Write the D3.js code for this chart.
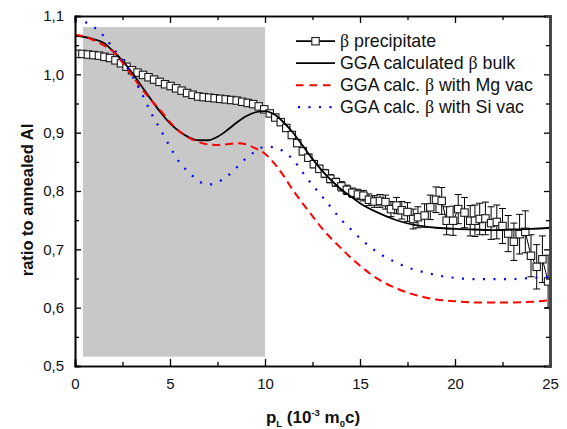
<!DOCTYPE html>
<html><head><meta charset="utf-8">
<script src="https://cdn.jsdelivr.net/npm/d3@7"></script>
<style>
html,body{margin:0;padding:0;background:#fff;}
svg{display:block;}
text{font-family:"Liberation Sans",Arial,sans-serif;}
</style></head>
<body>
<svg id="chart" width="567" height="429"></svg>
<script>
// ---- data ----
const dataX = [0.10,0.39,0.68,0.97,1.26,1.55,1.84,2.13,2.42,2.71,3.00,3.29,3.58,3.87,4.16,4.45,4.74,5.03,5.32,5.61,5.90,6.19,6.48,6.77,7.06,7.35,7.64,7.93,8.22,8.51,8.80,9.09,9.38,9.67,9.96,10.25,10.54,10.83,11.12,11.41,11.70,11.99,12.28,12.57,12.86,13.15,13.44,13.73,14.02,14.31,14.60,14.89,15.18,15.47,15.76,16.05,16.34,16.63,16.92,17.20,17.50,17.80,18.05,18.40,18.70,19.00,19.30,19.56,19.90,20.17,20.50,20.80,21.05,21.30,21.60,21.90,22.20,22.50,22.80,23.10,23.40,23.70,24.00,24.30,24.60,24.90];
const dataY = [1.035,1.035,1.034,1.033,1.032,1.030,1.028,1.024,1.019,1.013,1.007,1.003,0.999,0.995,0.991,0.987,0.983,0.980,0.976,0.972,0.968,0.965,0.962,0.961,0.960,0.959,0.958,0.957,0.956,0.955,0.953,0.951,0.949,0.945,0.940,0.933,0.926,0.918,0.908,0.896,0.882,0.868,0.857,0.846,0.838,0.830,0.821,0.815,0.808,0.802,0.797,0.794,0.792,0.785,0.782,0.783,0.781,0.769,0.775,0.767,0.764,0.752,0.755,0.758,0.772,0.785,0.783,0.749,0.749,0.769,0.763,0.749,0.749,0.752,0.753,0.745,0.747,0.740,0.727,0.713,0.726,0.730,0.689,0.670,0.683,0.645];
const dataErr = [0.004,0.004,0.004,0.004,0.004,0.004,0.004,0.004,0.004,0.004,0.004,0.004,0.004,0.004,0.004,0.004,0.004,0.004,0.004,0.004,0.004,0.004,0.004,0.004,0.004,0.004,0.004,0.004,0.004,0.004,0.004,0.004,0.004,0.004,0.004,0.004,0.004,0.004,0.005,0.005,0.005,0.006,0.006,0.006,0.006,0.007,0.007,0.007,0.008,0.008,0.008,0.009,0.009,0.010,0.010,0.011,0.012,0.013,0.014,0.015,0.016,0.017,0.018,0.020,0.021,0.022,0.023,0.024,0.025,0.025,0.026,0.026,0.027,0.027,0.028,0.028,0.029,0.030,0.031,0.032,0.034,0.036,0.036,0.038,0.040,0.045];

const bulkX = [0,0.5,1,1.5,2,2.5,3,3.5,4,4.5,5,5.5,6,6.5,7,7.5,8,8.5,9,9.5,10,10.5,11,11.5,12,12.5,13,13.5,14,14.5,15,16,17,18,19,20,21,22,23,24,25];
const bulkY = [1.066,1.064,1.060,1.054,1.040,1.023,1.003,0.980,0.957,0.935,0.916,0.902,0.892,0.887,0.887,0.893,0.904,0.917,0.928,0.935,0.937,0.931,0.917,0.899,0.877,0.855,0.835,0.818,0.803,0.791,0.779,0.762,0.749,0.741,0.737,0.735,0.734,0.733,0.734,0.735,0.737];

const mgX = [0,0.5,1,1.5,2,2.5,3,3.5,4,4.5,5,5.5,6,6.5,7,7.5,8,8.5,9,9.5,10,10.5,11,11.5,12,12.5,13,13.5,14,14.5,15,15.5,16,17,18,19,20,21,22,23,24,25];
const mgY = [1.068,1.065,1.058,1.050,1.039,1.020,0.998,0.976,0.956,0.938,0.918,0.902,0.891,0.884,0.880,0.879,0.880,0.882,0.880,0.873,0.864,0.847,0.825,0.800,0.778,0.757,0.736,0.718,0.702,0.686,0.672,0.659,0.648,0.632,0.621,0.614,0.611,0.609,0.609,0.609,0.610,0.613];

const siX = [0,0.5,1,1.5,2,2.5,3,3.5,4,4.5,5,5.5,6,6.5,7,7.5,8,8.5,9,9.5,10,10.5,11,11.5,12,12.5,13,13.5,14,14.5,15,15.5,16,16.5,17,17.5,18,19,20,21,22,23,24,25];
const siY = [1.093,1.090,1.081,1.066,1.045,1.024,0.998,0.968,0.934,0.905,0.876,0.849,0.832,0.817,0.811,0.815,0.825,0.840,0.856,0.868,0.876,0.875,0.867,0.853,0.831,0.810,0.791,0.771,0.751,0.735,0.719,0.705,0.693,0.684,0.676,0.669,0.664,0.656,0.651,0.649,0.649,0.649,0.651,0.653];

const shadedX = [0.42, 10];
const shadedY = [0.516, 1.081];

const xTicks = [0,5,10,15,20,25];
const xMinor = [2.5,7.5,12.5,17.5,22.5];
const yTicks = [0.5,0.6,0.7,0.8,0.9,1.0,1.1];
const yMinor = [0.55,0.65,0.75,0.85,0.95,1.05];
const yTickLabels = ["0,5","0,6","0,7","0,8","0,9","1,0","1,1"];

const legendLabels = [["", "β", " precipitate"],["GGA calculated ", "β", " bulk"],["GGA calc. ", "β", " with Mg vac"],["GGA calc. ", "β", " with Si vac"]];

// ---- layout ----
const L = 75, R = 550, T = 16, B = 366;
const svg = d3.select("#chart");
const x = d3.scaleLinear().domain([0,25]).range([L,R]);
const y = d3.scaleLinear().domain([0.5,1.1]).range([B,T]);

svg.append("defs").append("clipPath").attr("id","clip")
  .append("rect").attr("x",L).attr("y",T).attr("width",R-L).attr("height",B-T);

// shaded region
svg.append("rect")
  .attr("x", x(shadedX[0])).attr("y", y(shadedY[1]))
  .attr("width", x(shadedX[1]) - x(shadedX[0]))
  .attr("height", y(shadedY[0]) - y(shadedY[1]))
  .attr("fill", "#c8c8c8");

const plot = svg.append("g").attr("clip-path","url(#clip)");
const line = d3.line().x(d=>x(d[0])).y(d=>y(d[1])).curve(d3.curveMonotoneX);

const zip = (a,b)=>a.map((v,i)=>[v,b[i]]);

// data connecting line
plot.append("path").datum(zip(dataX,dataY))
  .attr("d", d3.line().x(d=>x(d[0])).y(d=>y(d[1])))
  .attr("fill","none").attr("stroke","#000").attr("stroke-width",1);

// error bars
const eb = plot.append("g").attr("stroke","#000").attr("stroke-width",1);
dataX.forEach((xv,i)=>{
  const cx = x(xv), y1 = y(dataY[i]+dataErr[i]), y2 = y(dataY[i]-dataErr[i]);
  eb.append("line").attr("x1",cx).attr("x2",cx).attr("y1",y1).attr("y2",y2);
  eb.append("line").attr("x1",cx-3.5).attr("x2",cx+3.5).attr("y1",y1).attr("y2",y1);
  eb.append("line").attr("x1",cx-3.5).attr("x2",cx+3.5).attr("y1",y2).attr("y2",y2);
});

// squares
const sq = 7.4;
plot.append("g").selectAll("rect").data(zip(dataX,dataY)).join("rect")
  .attr("x",d=>x(d[0])-sq/2).attr("y",d=>y(d[1])-sq/2)
  .attr("width",sq).attr("height",sq)
  .attr("fill","#fff").attr("stroke","#1a1a1a").attr("stroke-width",1.1);

// theory curves
plot.append("path").datum(zip(bulkX,bulkY)).attr("d",line)
  .attr("fill","none").attr("stroke","#000").attr("stroke-width",1.8);
plot.append("path").datum(zip(mgX,mgY)).attr("d",line)
  .attr("fill","none").attr("stroke","#ff0000").attr("stroke-width",2)
  .attr("stroke-dasharray","8,5");
plot.append("path").datum(zip(siX,siY)).attr("d",line)
  .attr("fill","none").attr("stroke","#0000ff").attr("stroke-width",2.2)
  .attr("stroke-dasharray","2,8.5");

// axes
const fs = "15px";
const gB = svg.append("g").attr("transform",`translate(0,${B})`)
  .call(d3.axisBottom(x).tickValues(xTicks).tickSize(-7).tickPadding(12).tickFormat(d3.format("d")));
const gBm = svg.append("g").attr("transform",`translate(0,${B})`)
  .call(d3.axisBottom(x).tickValues(xMinor).tickSize(-4).tickFormat(""));
const gT = svg.append("g").attr("transform",`translate(0,${T})`)
  .call(d3.axisTop(x).tickValues(xTicks).tickSize(-7).tickFormat(""));
const gTm = svg.append("g").attr("transform",`translate(0,${T})`)
  .call(d3.axisTop(x).tickValues(xMinor).tickSize(-4).tickFormat(""));
const gL = svg.append("g").attr("transform",`translate(${L},0)`)
  .call(d3.axisLeft(y).tickValues(yTicks).tickSize(-6).tickPadding(11).tickFormat((d,i)=>yTickLabels[i]));
const gLm = svg.append("g").attr("transform",`translate(${L},0)`)
  .call(d3.axisLeft(y).tickValues(yMinor).tickSize(-4).tickFormat(""));
const gR = svg.append("g").attr("transform",`translate(${R},0)`)
  .call(d3.axisRight(y).tickValues(yTicks).tickSize(-6).tickFormat(""));
const gRm = svg.append("g").attr("transform",`translate(${R},0)`)
  .call(d3.axisRight(y).tickValues(yMinor).tickSize(-4).tickFormat(""));

[gB,gBm,gT,gTm,gL,gLm,gR,gRm].forEach(g=>{
  g.selectAll("path.domain").attr("stroke","#000").attr("stroke-width",1.6);
  g.selectAll(".tick line").attr("stroke","#000").attr("stroke-width",1.3);
  g.selectAll("text").attr("font-size",fs).attr("fill","#111").attr("font-family","Liberation Sans, Arial, sans-serif");
});
gR.select("path.domain").attr("stroke","#444").attr("stroke-width",2.6);
gRm.select("path.domain").attr("stroke","#444").attr("stroke-width",2.6);

// axis titles
const xt = svg.append("text").attr("x",313).attr("y",423).attr("text-anchor","middle")
  .attr("font-size","17px").attr("font-weight","bold").attr("fill","#111");
xt.append("tspan").text("p");
xt.append("tspan").attr("font-size","9.5px").attr("dy",4).text("L");
xt.append("tspan").attr("dy",-4).text(" (10");
xt.append("tspan").attr("font-size","9.5px").attr("dy",-7).text("-3");
xt.append("tspan").attr("dy",7).text(" m");
xt.append("tspan").attr("font-size","9.5px").attr("dy",4).text("0");
xt.append("tspan").attr("dy",-4).text("c)");

svg.append("text").attr("transform","translate(33,200) rotate(-90)")
  .attr("text-anchor","middle").attr("font-size","16.5px").attr("font-weight","bold")
  .attr("fill","#111").text("ratio to annealed Al");

// legend
const lgX0 = 296, lgX1 = 335, lgTx = 340, lgY0 = 47, lgDy = 22;
const lg = svg.append("g");
legendLabels.forEach((lab,i)=>{
  const by = lgY0 + i*lgDy, ly = by - 5.8;
  const ln = lg.append("line").attr("x1",lgX0).attr("x2",lgX1).attr("y1",ly).attr("y2",ly);
  if(i===0){
    ln.attr("stroke","#000").attr("stroke-width",1.8);
    lg.append("rect").attr("x",(lgX0+lgX1)/2-sq/2).attr("y",ly-sq/2).attr("width",sq).attr("height",sq)
      .attr("fill","#fff").attr("stroke","#1a1a1a").attr("stroke-width",1.1);
  } else if(i===1){
    ln.attr("stroke","#000").attr("stroke-width",1.8);
  } else if(i===2){
    ln.attr("stroke","#ff0000").attr("stroke-width",2).attr("stroke-dasharray","7.5,6");
  } else {
    ln.attr("stroke","#0000ff").attr("stroke-width",2.2).attr("stroke-dasharray","2,8.5").attr("x1",lgX0+2);
  }
  const t = lg.append("text").attr("x",lgTx).attr("y",by).attr("font-size","17.8px").attr("fill","#111");
  if(lab[0]) t.append("tspan").text(lab[0]);
  t.append("tspan").attr("font-family","Liberation Serif, DejaVu Serif, serif").text(lab[1]);
  t.append("tspan").text(lab[2]);
});
</script>
</body></html>
